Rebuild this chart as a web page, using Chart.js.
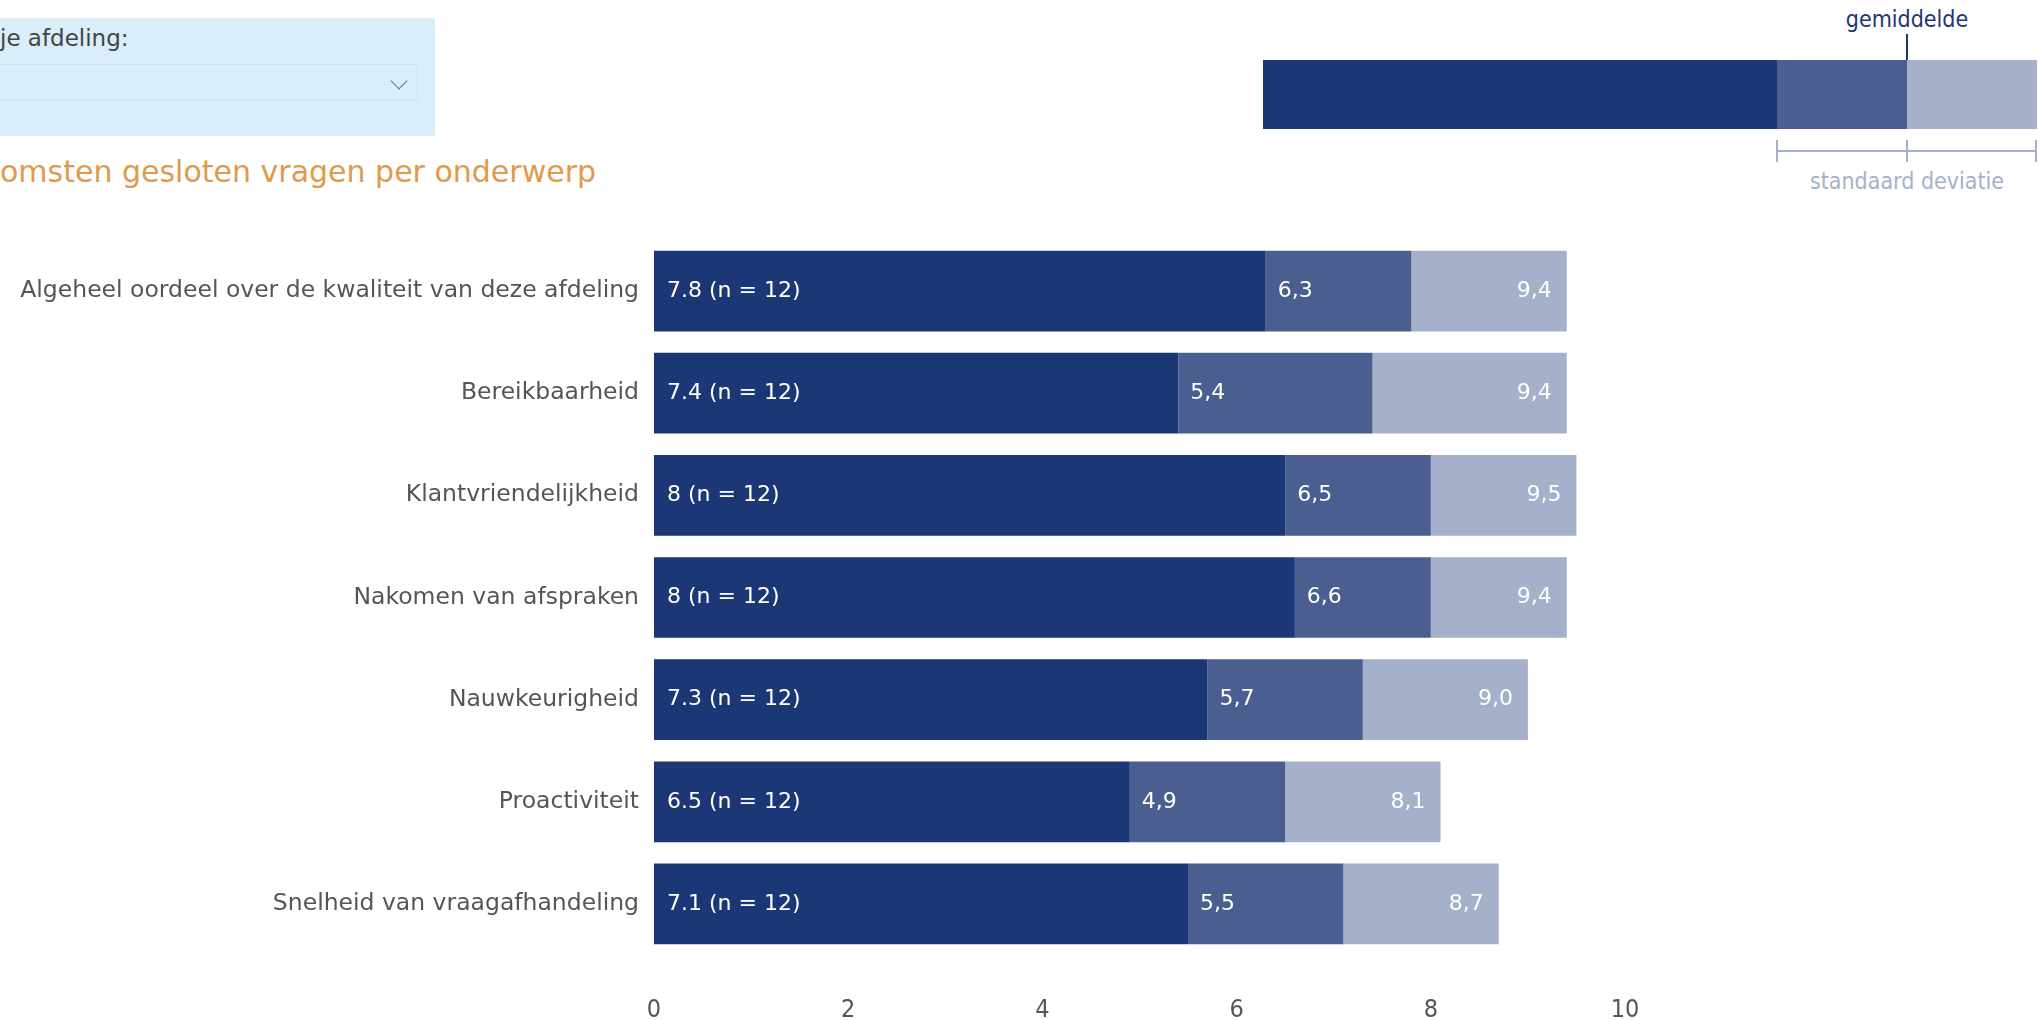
<!DOCTYPE html>
<html>
<head>
<meta charset="utf-8">
<script src="https://cdn.jsdelivr.net/npm/chart.js@4/dist/chart.umd.min.js"></script>
<style>
  body { margin: 0; width: 2040px; height: 1020px; overflow: hidden; background: #fff;
         font-family: "DejaVu Sans", sans-serif; }
  .filter-box { position: absolute; left: 0; top: 18px; width: 435px; height: 118px; background: #d9eef9; }
  .filter-label { position: absolute; left: 0; top: 25px; font-size: 23px; color: #444; }
  .filter-select { position: absolute; left: -2px; top: 64px; width: 420px; height: 37px; border: 1px solid #d0e4ee; box-sizing: border-box; }
  .chev { position: absolute; left: 393px; top: 75px; width: 11px; height: 11px; border-right: 1.5px solid #6d7680; border-bottom: 1.5px solid #6d7680; transform: rotate(45deg); }
  .title { position: absolute; left: 0; top: 154px; font-size: 30px; color: #e09a4c; white-space: nowrap; }
  #chart-wrap { position: absolute; left: 0; top: 0; width: 2040px; height: 1020px; }
  .lg { position: absolute; }
  .lg-text { position: absolute; font-family: "DejaVu Sans Condensed", "DejaVu Sans", sans-serif; font-size: 23px; white-space: nowrap; transform: translateX(-50%); }
</style>
</head>
<body>
<div class="filter-box"></div>
<div class="filter-label">je afdeling:</div>
<div class="filter-select"></div>
<div class="chev"></div>
<div class="title">omsten gesloten vragen per onderwerp</div>

<!-- legenda rechtsboven -->
<div class="lg-text" style="left:1907px; top:6px; color:#1c3775;">gemiddelde</div>
<div class="lg" style="left:1906px; top:34px; width:2px; height:27px; background:#1c3775;"></div>
<div class="lg" style="left:1263px; top:60px; width:514px; height:69px; background:#1c3775;"></div>
<div class="lg" style="left:1777px; top:60px; width:130px; height:69px; background:#4a5f8f;"></div>
<div class="lg" style="left:1907px; top:60px; width:130px; height:69px; background:#a5b0ca;"></div>
<div class="lg" style="left:1777px; top:150px; width:260px; height:2px; background:#a5b0ca;"></div>
<div class="lg" style="left:1776px; top:140px; width:2px; height:22px; background:#a5b0ca;"></div>
<div class="lg" style="left:1906px; top:140px; width:2px; height:22px; background:#a5b0ca;"></div>
<div class="lg" style="left:2035px; top:140px; width:2px; height:22px; background:#a5b0ca;"></div>
<div class="lg-text" style="left:1907px; top:168px; color:#a5b0ca;">standaard deviatie</div>

<div id="chart-wrap"><canvas id="myChart"></canvas></div>

<script>
// onderwerpen
const onderwerpen = [
  'Algeheel oordeel over de kwaliteit van deze afdeling',
  'Bereikbaarheid',
  'Klantvriendelijkheid',
  'Nakomen van afspraken',
  'Nauwkeurigheid',
  'Proactiviteit',
  'Snelheid van vraagafhandeling'
];
// gemiddelde, ondergrens (gem - sd), bovengrens (gem + sd), aantal
const gemiddelde = [7.8, 7.4, 8, 8, 7.3, 6.5, 7.1];
const ondergrens = [6.3, 5.4, 6.5, 6.6, 5.7, 4.9, 5.5];
const bovengrens = [9.4, 9.4, 9.5, 9.4, 9.0, 8.1, 8.7];
const aantal = [12, 12, 12, 12, 12, 12, 12];
const xTicks = [0, 2, 4, 6, 8, 10];

const kleurDonker = '#1c3775';
const kleurMidden = '#4a5f8f';
const kleurLicht = '#a5b0ca';
const gewoonFont = '"DejaVu Sans", sans-serif';
const smalFont = '"DejaVu Sans Condensed", "DejaVu Sans", sans-serif';

const komma = v => v.toFixed(1).replace('.', ',');

// tekst in de balken
const balkLabels = {
  id: 'balkLabels',
  afterDatasetsDraw(chart) {
    const ctx = chart.ctx;
    ctx.save();
    ctx.font = '22px ' + gewoonFont;
    ctx.fillStyle = '#ffffff';
    ctx.textBaseline = 'middle';
    chart.getDatasetMeta(0).data.forEach((bar, i) => {
      ctx.textAlign = 'left';
      ctx.fillText(gemiddelde[i] + ' (n = ' + aantal[i] + ')', bar.base + 13, bar.y);
    });
    chart.getDatasetMeta(1).data.forEach((bar, i) => {
      ctx.textAlign = 'left';
      ctx.fillText(komma(ondergrens[i]), bar.base + 12, bar.y);
    });
    chart.getDatasetMeta(2).data.forEach((bar, i) => {
      ctx.textAlign = 'right';
      ctx.fillText(komma(bovengrens[i]), bar.x - 15, bar.y);
    });
    ctx.restore();
  }
};

const ctx = document.getElementById('myChart').getContext('2d');
const newChart = new Chart(ctx, {
  type: 'bar',
  data: {
    labels: onderwerpen,
    datasets: [
      { label: 'tot ondergrens', data: ondergrens.map(v => [0, v]), backgroundColor: kleurDonker },
      { label: 'ondergrens - gemiddelde', data: ondergrens.map((v, i) => [v, gemiddelde[i]]), backgroundColor: kleurMidden },
      { label: 'gemiddelde - bovengrens', data: gemiddelde.map((v, i) => [v, bovengrens[i]]), backgroundColor: kleurLicht }
    ]
  },
  options: {
    indexAxis: 'y',
    responsive: true,
    maintainAspectRatio: false,
    animation: false,
    grouped: false,
    categoryPercentage: 1,
    barPercentage: 0.79,
    layout: { padding: { top: 240, right: 415, left: 0, bottom: 0 } },
    plugins: { legend: { display: false }, tooltip: { enabled: false } },
    scales: {
      x: {
        min: 0, max: 10,
        grid: { display: false, drawTicks: false },
        border: { display: false },
        afterBuildTicks: s => { s.ticks = xTicks.map(v => ({ value: v })); },
        afterFit: s => { s.height = 65; },
        ticks: { padding: 40, color: '#555', font: { family: smalFont, size: 25 } }
      },
      y: {
        grid: { display: false, drawTicks: false },
        border: { display: false },
        afterFit: s => { s.width = 654; },
        ticks: { padding: 15, color: '#555', font: { family: gewoonFont, size: 23.5 } }
      }
    }
  },
  plugins: [balkLabels]
});
</script>
</body>
</html>
